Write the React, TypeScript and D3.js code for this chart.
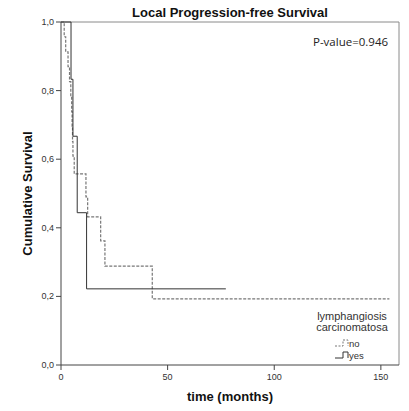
import React from 'react';
import * as d3 from 'd3';

// Kaplan-Meier steps: [time in months, survival]
const noTimes = [0, 1.5, 2.2, 3.3, 4.0, 4.6, 5.0, 5.2, 5.4, 5.6, 6.2, 11.7, 12.5, 18.6, 20.6, 42.8, 154];
const noSurv = [1, 0.957, 0.913, 0.87, 0.826, 0.783, 0.739, 0.696, 0.652, 0.609, 0.557, 0.49, 0.432, 0.362, 0.288, 0.193, 0.193];
const yesTimes = [0, 4.7, 5.6, 7.6, 12.0, 77.3];
const yesSurv = [1, 0.833, 0.667, 0.444, 0.222, 0.222];

const xTicks = [0, 50, 100, 150];
const yTicks = [0, 0.2, 0.4, 0.6, 0.8, 1.0];
const legendItems = ['no', 'yes'];

const W = 409;
const H = 411;
const margin = { top: 22, right: 10, bottom: 46, left: 61 };

export default function App() {
  const x = d3.scaleLinear().domain([0, 158.5]).range([margin.left, W - margin.right]);
  const y = d3.scaleLinear().domain([0, 1]).range([H - margin.bottom, margin.top]);

  const line = d3.line<[number, number]>()
    .x(d => x(d[0]))
    .y(d => y(d[1]))
    .curve(d3.curveStepAfter);

  const noData = noTimes.map((t, i) => [t, noSurv[i]] as [number, number]);
  const yesData = yesTimes.map((t, i) => [t, yesSurv[i]] as [number, number]);

  const x0 = x.range()[0];
  const x1 = x.range()[1];
  const y0 = y.range()[0];
  const y1 = y.range()[1];
  const cx = (x0 + x1) / 2;
  const font = '"Liberation Sans", Arial, sans-serif';

  return (
    <div style={{ position: 'absolute', left: 0, top: 0 }}>
      <svg width={W} height={H} style={{ display: 'block', background: '#fff' }} fontFamily={font}>
        {/* frame */}
        <line x1={x0} x2={x1} y1={y1} y2={y1} stroke="#8a8a8a" />
        <line x1={x1} x2={x1} y1={y1} y2={y0} stroke="#8a8a8a" />

        {/* curves */}
        <path d={line(noData) || ''} fill="none" stroke="#777" strokeWidth={1.2} strokeDasharray="3 1.5" />
        <path d={line(yesData) || ''} fill="none" stroke="#333" strokeWidth={1} />

        {/* axes */}
        <line x1={x0} x2={x1} y1={y0} y2={y0} stroke="#444" />
        <line x1={x0} x2={x0} y1={y1} y2={y0} stroke="#444" />
        {yTicks.map(t => (
          <g key={t}>
            <line x1={x0 - 5} x2={x0} y1={y(t)} y2={y(t)} stroke="#444" />
            <text x={x0 - 7} y={y(t) + 3} textAnchor="end" fontSize={9} fill="#333">
              {d3.format('.1f')(t).replace('.', ',')}
            </text>
          </g>
        ))}
        {xTicks.map(t => (
          <g key={t}>
            <line x1={x(t)} x2={x(t)} y1={y0} y2={y0 + 5} stroke="#444" />
            <text x={x(t)} y={y0 + 15} textAnchor="middle" fontSize={9} fill="#333">{t}</text>
          </g>
        ))}

        {/* titles */}
        <text x={cx} y={17} textAnchor="middle" fontSize={13} fontWeight="bold" fill="#111">
          Local Progression-free Survival
        </text>
        <text x={cx} y={401} textAnchor="middle" fontSize={13} fontWeight="bold" fill="#111">
          time (months)
        </text>
        <text transform={`translate(32,${(y0 + y1) / 2}) rotate(-90)`} textAnchor="middle" fontSize={13} fontWeight="bold" fill="#111">
          Cumulative Survival
        </text>
        <text x={313} y={46} fontSize={11.5} fontFamily='"Open Sans", sans-serif' fill="#222">
          P-value=0.946
        </text>

        {/* legend */}
        <text x={352} y={320} textAnchor="middle" fontSize={11} fill="#333">lymphangiosis</text>
        <text x={352} y={331} textAnchor="middle" fontSize={11} fill="#333">carcinomatosa</text>
        {legendItems.map((name, i) => {
          const ly = 344 + i * 12;
          return (
            <g key={name}>
              <path
                d={`M335,${ly + 2}H343V${ly - 4}H348V${ly + 2}`}
                fill="none"
                stroke={i === 0 ? '#777' : '#333'}
                strokeDasharray={i === 0 ? '2 1.5' : undefined}
              />
              <text x={349} y={ly + 3} fontSize={9.5} fill="#333">{name}</text>
            </g>
          );
        })}
      </svg>
    </div>
  );
}
